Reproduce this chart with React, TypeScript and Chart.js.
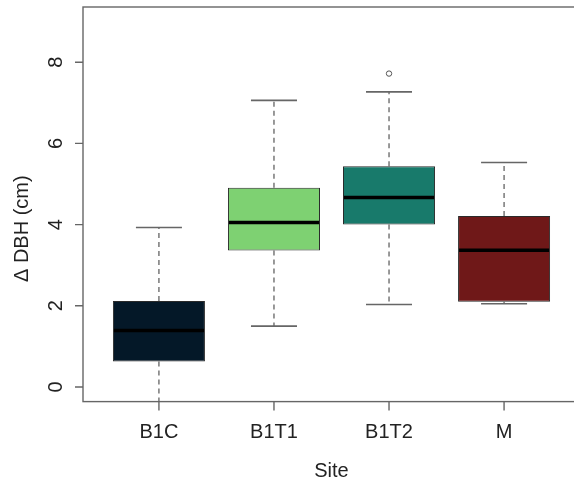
import React, { useEffect, useRef } from "react";
import { Chart, registerables } from "chart.js";

Chart.register(...registerables);

const sites = ["B1C", "B1T1", "B1T2", "M"];
const q1 = [0.63, 3.36, 4.0, 2.1];
const q3 = [2.12, 4.91, 5.44, 4.21];
const medians = [1.39, 4.05, 4.67, 3.37];
const whiskerLow = [-0.45, 1.5, 2.03, 2.05];
const whiskerHigh = [3.93, 7.06, 7.27, 5.53];
const outlierSite = [3];
const outlierValue = [7.72];
const boxColors = ["#041828", "#7ED172", "#187A6B", "#6F1818"];
const yTicks = [0, 2, 4, 6, 8];
const yLim = [0, 9];
const xLim = [0.5, 4.5];
const yTitle = "Δ DBH (cm)";
const xTitle = "Site";

const FONT = "Liberation Sans, Arial, sans-serif";

const ext = (lim: number[]) => {
  const d = (lim[1] - lim[0]) * 0.04;
  return [lim[0] - d, lim[1] + d];
};

const boxPlugin = {
  id: "boxplotExtras",
  beforeDatasetsDraw(chart: any) {
    const { ctx, chartArea, scales } = chart;
    const x = scales.x;
    const y = scales.y;
    const unit = x.getPixelForValue(2) - x.getPixelForValue(1);
    ctx.save();
    ctx.beginPath();
    ctx.rect(chartArea.left, chartArea.top, chartArea.right - chartArea.left, chartArea.bottom - chartArea.top);
    ctx.clip();
    for (let i = 0; i < sites.length; i++) {
      const cx = x.getPixelForValue(i + 1);
      ctx.strokeStyle = "#555";
      ctx.lineWidth = 1.2;
      ctx.setLineDash([5, 4]);
      ctx.beginPath();
      ctx.moveTo(cx, y.getPixelForValue(q3[i]));
      ctx.lineTo(cx, y.getPixelForValue(whiskerHigh[i]));
      ctx.moveTo(cx, y.getPixelForValue(q1[i]));
      ctx.lineTo(cx, y.getPixelForValue(whiskerLow[i]));
      ctx.stroke();
      ctx.setLineDash([]);
      ctx.strokeStyle = "#666";
      ctx.lineWidth = 1.6;
      ctx.beginPath();
      const hw = unit * 0.2;
      for (const v of [whiskerHigh[i], whiskerLow[i]]) {
        const py = y.getPixelForValue(v);
        ctx.moveTo(cx - hw, py);
        ctx.lineTo(cx + hw, py);
      }
      ctx.stroke();
    }
    ctx.restore();
  },
  afterDatasetsDraw(chart: any) {
    const { ctx, chartArea, scales } = chart;
    const x = scales.x;
    const y = scales.y;
    const unit = x.getPixelForValue(2) - x.getPixelForValue(1);
    ctx.save();
    for (let i = 0; i < sites.length; i++) {
      const cx = x.getPixelForValue(i + 1);
      const hw = unit * 0.4;
      const py = y.getPixelForValue(medians[i]);
      ctx.strokeStyle = "#000";
      ctx.lineWidth = 3.5;
      ctx.beginPath();
      ctx.moveTo(cx - hw + 1, py);
      ctx.lineTo(cx + hw - 1, py);
      ctx.stroke();
    }
    ctx.strokeStyle = "#555";
    ctx.lineWidth = 1;
    for (let k = 0; k < outlierSite.length; k++) {
      const cx = x.getPixelForValue(outlierSite[k]);
      const py = y.getPixelForValue(outlierValue[k]);
      ctx.beginPath();
      ctx.arc(cx, py, 2.7, 0, Math.PI * 2);
      ctx.stroke();
    }
    ctx.strokeStyle = "#666";
    ctx.lineWidth = 1.4;
    ctx.strokeRect(chartArea.left, chartArea.top, chartArea.right - chartArea.left, chartArea.bottom - chartArea.top);
    ctx.beginPath();
    for (const t of yTicks) {
      const py = y.getPixelForValue(t);
      ctx.moveTo(chartArea.left - 8, py);
      ctx.lineTo(chartArea.left, py);
    }
    for (let i = 0; i < sites.length; i++) {
      const px = x.getPixelForValue(i + 1);
      ctx.moveTo(px, chartArea.bottom);
      ctx.lineTo(px, chartArea.bottom + 9);
    }
    ctx.stroke();
    ctx.fillStyle = "#222";
    ctx.font = `20px ${FONT}`;
    ctx.textAlign = "center";
    ctx.textBaseline = "alphabetic";
    for (let i = 0; i < sites.length; i++) {
      ctx.fillText(sites[i], x.getPixelForValue(i + 1), chartArea.bottom + 36);
    }
    for (const t of yTicks) {
      ctx.save();
      ctx.translate(chartArea.left - 21, y.getPixelForValue(t));
      ctx.rotate(-Math.PI / 2);
      ctx.fillText(String(t), 0, 0);
      ctx.restore();
    }
    ctx.fillText(xTitle, (chartArea.left + chartArea.right) / 2, chartArea.bottom + 75);
    ctx.save();
    ctx.translate(chartArea.left - 55, y.getPixelForValue(3.9));
    ctx.rotate(-Math.PI / 2);
    ctx.fillText(yTitle, 0, 0);
    ctx.restore();
    ctx.restore();
  },
};

export default function App() {
  const ref = useRef<HTMLCanvasElement | null>(null);
  useEffect(() => {
    if (!ref.current) return;
    const xr = ext(xLim);
    const yr = ext(yLim);
    const chart = new Chart(ref.current, {
      type: "bar",
      data: {
        datasets: [
          {
            type: "bar",
            data: sites.map((s, i) => ({ x: i + 1, y: [q1[i], q3[i]] })) as any,
            backgroundColor: boxColors,
            borderColor: "#2a2a2a",
            borderWidth: 1,
            borderSkipped: false,
            barPercentage: 0.8,
            categoryPercentage: 1,
          } as any,
        ],
      },
      options: {
        animation: false,
        responsive: false,
        devicePixelRatio: 1,
        layout: { padding: { left: 83, top: 7, right: 10, bottom: 78.4 } },
        plugins: { legend: { display: false }, tooltip: { enabled: false } },
        scales: {
          x: {
            type: "linear",
            min: xr[0],
            max: xr[1],
            display: false,
            offset: false,
            afterBuildTicks: (scale: any) => {
              scale.ticks = sites.map((_, i) => ({ value: i + 1 }));
            },
          },
          y: { type: "linear", min: yr[0], max: yr[1], display: false },
        },
      },
      plugins: [boxPlugin],
    });
    return () => chart.destroy();
  }, []);
  return (
    <div style={{ position: "fixed", left: 0, top: 0, width: 574, height: 480, overflow: "hidden", background: "#fff" }}>
      <canvas ref={ref} width={590} height={480} style={{ display: "block" }} />
    </div>
  );
}
